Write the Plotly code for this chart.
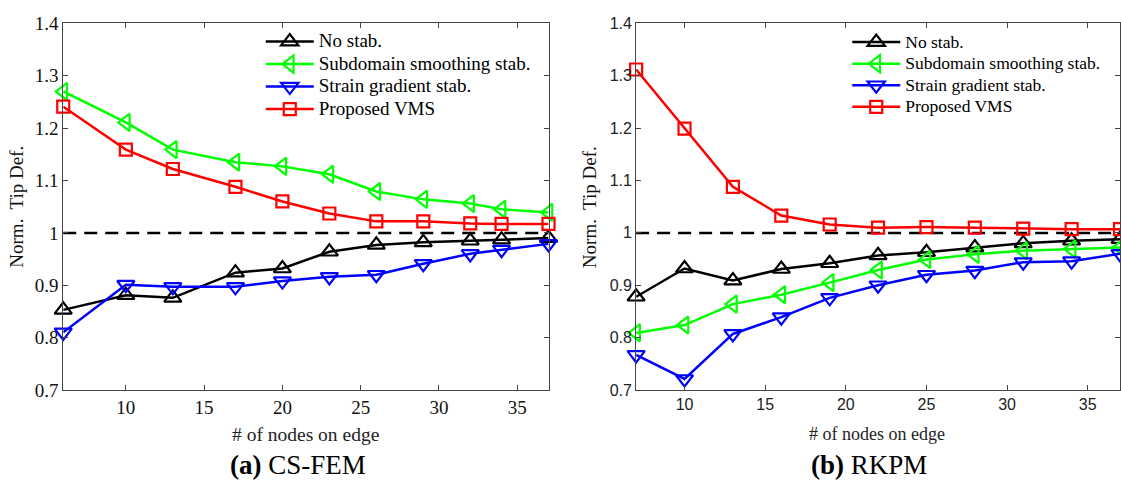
import plotly.graph_objects as go

# ---- data -------------------------------------------------------------
SERIES_NAMES = ["No stab.", "Subdomain smoothing stab.", "Strain gradient stab.", "Proposed VMS"]
REF_LEVEL = 1.0

# (a) CS-FEM
NODES_A = [6, 10, 13, 17, 20, 23, 26, 29, 32, 34, 37]
A_NO_STAB = [0.853, 0.881, 0.876, 0.924, 0.932, 0.964, 0.977, 0.982, 0.985, 0.987, 0.990]
A_SUBDOMAIN = [1.270, 1.211, 1.159, 1.135, 1.127, 1.112, 1.079, 1.064, 1.056, 1.045, 1.039]
A_STRAIN_GRAD = [0.810, 0.901, 0.897, 0.897, 0.908, 0.916, 0.920, 0.941, 0.960, 0.968, 0.979]
A_VMS = [1.241, 1.159, 1.122, 1.088, 1.060, 1.037, 1.022, 1.022, 1.018, 1.017, 1.017]

# (b) RKPM
NODES_B = [7, 10, 13, 16, 19, 22, 25, 28, 31, 34, 37]
B_NO_STAB = [0.878, 0.932, 0.909, 0.931, 0.942, 0.957, 0.963, 0.972, 0.980, 0.985, 0.988]
B_SUBDOMAIN = [0.809, 0.824, 0.864, 0.882, 0.905, 0.929, 0.949, 0.959, 0.966, 0.969, 0.972]
B_STRAIN_GRAD = [0.767, 0.721, 0.807, 0.839, 0.876, 0.900, 0.920, 0.928, 0.944, 0.946, 0.960]
B_VMS = [1.312, 1.199, 1.088, 1.033, 1.016, 1.010, 1.011, 1.010, 1.008, 1.007, 1.007]

X_TICKS = [10, 15, 20, 25, 30, 35]
Y_TICKS = [0.7, 0.8, 0.9, 1.0, 1.1, 1.2, 1.3, 1.4]
Y_TICK_TEXT = ["0.7", "0.8", "0.9", "1", "1.1", "1.2", "1.3", "1.4"]
X_TITLE = "# of nodes on edge"
Y_TITLE = "Norm.  Tip Def."
CAPTIONS = ["<b>(a)</b> CS-FEM", "<b>(b)</b> RKPM"]

# ---- styling ----------------------------------------------------------
W, H = 1121, 490
SERIF = "Liberation Serif, Times New Roman, serif"
SANS = "Liberation Sans, Arial, sans-serif"
COLORS = ["#000000", "#00ff00", "#0000ff", "#ff0000"]
SYMBOLS = ["triangle-up-open", "triangle-left-open", "triangle-down-open", "square-open"]
SIZES = [15, 15, 15, 12]


def px_x(p):
    return p / W


def px_y(p):
    return 1 - p / H


def legend_label(name, size):
    # rendered size of the legend text; the legend's own font size sets the row pitch
    return f'<span style="font-size:{size}px">{name}</span>'


fig = go.Figure()

panels = [
    (NODES_A, [A_NO_STAB, A_SUBDOMAIN, A_STRAIN_GRAD, A_VMS], "x", "y", "legend", 19),
    (NODES_B, [B_NO_STAB, B_SUBDOMAIN, B_STRAIN_GRAD, B_VMS], "x2", "y2", "legend2", 17.5),
]
for nodes, series, xa, ya, leg, lsize in panels:
    for name, vals, col, sym, sz in zip(SERIES_NAMES, series, COLORS, SYMBOLS, SIZES):
        fig.add_trace(go.Scatter(
            x=nodes, y=vals, name=legend_label(name, lsize), mode="lines+markers",
            xaxis=xa, yaxis=ya, legend=leg, cliponaxis=False,
            line=dict(color=col, width=2.5),
            marker=dict(symbol=sym, size=sz, color=col, line=dict(color=col, width=2.2)),
        ))

# reference level (exact solution)
for xa, ya in [("x", "y"), ("x2", "y2")]:
    fig.add_shape(type="line", xref=f"{xa} domain", yref=ya, x0=0, x1=1,
                  y0=REF_LEVEL, y1=REF_LEVEL,
                  line=dict(color="black", width=2.5, dash="13px,8px"), layer="below")

Y_DOMAIN = [px_y(397), px_y(14)]
axis_common = dict(showline=True, linecolor="#444", linewidth=1, mirror="ticks",
                   ticks="inside", ticklen=5, tickcolor="#444", showgrid=False,
                   zeroline=False)

fig.update_layout(
    width=W, height=H, autosize=False,
    margin=dict(l=0, r=0, t=0, b=0),
    paper_bgcolor="white", plot_bgcolor="white",
    xaxis=dict(domain=[px_x(63.3), px_x(549)], range=[6, 37], anchor="y",
               tickvals=X_TICKS, tickfont=dict(family=SERIF, size=19, color="#111"),
               **axis_common),
    yaxis=dict(domain=Y_DOMAIN, range=[0.7, 1.4], anchor="x",
               tickvals=Y_TICKS, ticktext=Y_TICK_TEXT,
               tickfont=dict(family=SERIF, size=19, color="#111"), **axis_common),
    xaxis2=dict(domain=[px_x(636.7), 1.0], range=[7, 37], anchor="y2",
                tickvals=X_TICKS, tickfont=dict(family=SANS, size=16, color="#222"),
                **axis_common),
    yaxis2=dict(domain=Y_DOMAIN, range=[0.7, 1.4], anchor="x2",
                tickvals=Y_TICKS, ticktext=Y_TICK_TEXT,
                tickfont=dict(family=SANS, size=16, color="#222"), **axis_common),
    legend=dict(x=px_x(261), y=px_y(16), xanchor="left", yanchor="top",
                bgcolor="rgba(0,0,0,0)", borderwidth=0, itemwidth=48,
                font=dict(family=SERIF, size=15, color="black"), tracegroupgap=0),
    legend2=dict(x=px_x(848), y=px_y(17), xanchor="left", yanchor="top",
                 bgcolor="rgba(0,0,0,0)", borderwidth=0, itemwidth=48,
                 font=dict(family=SERIF, size=14.3, color="black"), tracegroupgap=0),
    showlegend=True,
)

annotations = []
# y-axis titles
for xc in (17, 590):
    annotations.append(dict(text=Y_TITLE, x=px_x(xc), y=px_y(205.5), xref="paper", yref="paper",
                            textangle=-90, showarrow=False, xanchor="center", yanchor="middle",
                            font=dict(family=SERIF, size=19, color="#111")))
# x-axis titles
for xc, fs in ((306, 19.5), (878, 18)):
    annotations.append(dict(text=X_TITLE, x=px_x(xc), y=px_y(443), xref="paper", yref="paper",
                            showarrow=False, xanchor="center", yanchor="middle",
                            font=dict(family=SERIF, size=fs, color="#222")))
# panel captions
for xc, cap in zip((298, 870), CAPTIONS):
    annotations.append(dict(text=cap, x=px_x(xc), y=px_y(475), xref="paper", yref="paper",
                            showarrow=False, xanchor="center", yanchor="middle",
                            font=dict(family=SERIF, size=27, color="black")))
fig.update_layout(annotations=annotations)

fig.write_html("out.html")
